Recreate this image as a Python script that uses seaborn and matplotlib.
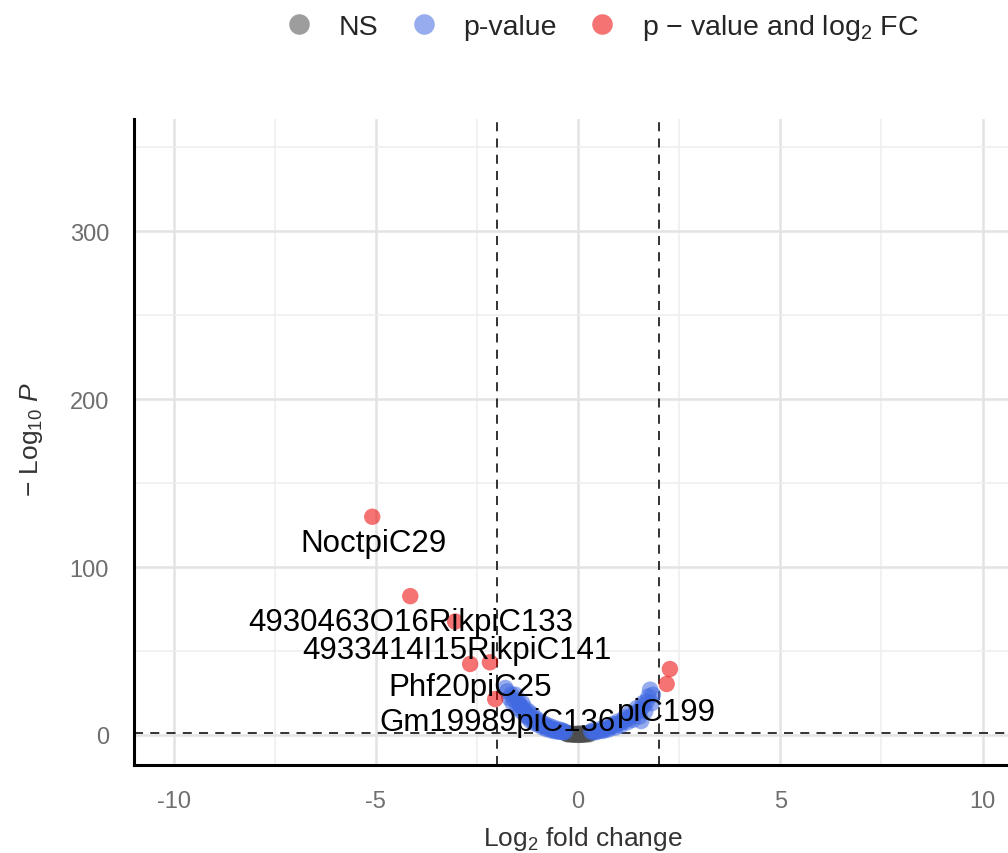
import matplotlib
matplotlib.use("Agg")
import matplotlib.pyplot as plt
import pandas as pd
import seaborn as sns
from matplotlib.ticker import MultipleLocator

# points (log2 fold change, -log10 p)
red_x = [-5.09, -4.15, -3.04, -2.67, -2.18, -2.05, 2.27, 2.19]
red_y = [130.0, 82.7, 67.6, 42.3, 43.3, 21.4, 39.3, 30.4]

blue_x = [-1.80, -1.75, -1.70, -1.65, -1.62, -1.58, -1.55, -1.50, -1.48, -1.45,
          -1.42, -1.40, -1.38, -1.35, -1.32, -1.30, -1.28, -1.25, -1.22, -1.20,
          -1.18, -1.15, -1.12, -1.10, -1.08, -1.05, -1.02, -1.00, -0.98, -0.95,
          -0.92, -0.90, -0.88, -0.85, -0.82, -0.80, -0.78, -0.75, -0.72, -0.70,
          -0.68, -0.65, -0.62, -0.60, -0.58, -0.55, -0.52, -0.50, -0.48, -0.45,
          -0.42, -0.40, -0.38, -0.35, -0.32,
          0.32, 0.35, 0.38, 0.42, 0.45, 0.50, 0.55, 0.58, 0.62, 0.65,
          0.68, 0.72, 0.75, 0.80, 0.85, 0.88, 0.92, 0.95, 0.98, 1.02,
          1.05, 1.10, 1.15, 1.18, 1.22, 1.25, 1.28, 1.32, 1.35, 1.40,
          1.45, 1.48, 1.52, 1.55, 1.56, 1.60, 1.62, 1.66, 1.70, 1.74,
          1.78, 1.82, 1.85]
blue_y = [28.0, 26.0, 22.0, 24.0, 19.0, 21.0, 24.0, 16.0, 20.0, 18.0,
          17.0, 14.0, 19.0, 15.0, 16.0, 12.0, 11.0, 13.0, 14.0, 10.0,
          8.5, 11.0, 12.0, 9.0, 7.0, 8.5, 9.5, 7.5, 6.0, 7.0,
          8.0, 6.0, 4.5, 5.5, 6.5, 5.0, 3.5, 4.5, 5.5, 4.0,
          2.8, 3.5, 4.5, 3.0, 2.2, 2.8, 3.6, 2.4, 1.9, 2.1,
          3.0, 1.8, 2.4, 1.6, 2.0,
          2.2, 1.6, 2.8, 1.9, 1.7, 2.3, 3.6, 2.8, 2.4, 3.3,
          4.6, 4.0, 3.2, 4.6, 6.5, 5.4, 4.4, 6.2, 8.0, 7.0,
          5.6, 8.0, 10.5, 9.2, 7.6, 10.0, 13.0, 11.5, 9.0, 12.5,
          16.0, 14.0, 11.0, 15.5, 8.3, 19.0, 17.5, 14.0, 20.0, 23.0,
          27.0, 19.0, 24.0]

grey_x = [-0.30, -0.28, -0.25, -0.22, -0.20, -0.18, -0.15, -0.12, -0.10, -0.08,
          -0.05, -0.02, 0.00, 0.02, 0.04, 0.05, 0.08, 0.10, 0.12, 0.15,
          0.18, 0.20, 0.22, 0.25, 0.28, 0.30]
grey_y = [1.1, 0.5, 0.8, 0.3, 0.6, 0.9, 0.4, 0.2, 0.3, 0.6,
          0.1, 0.7, 0.05, 0.4, 0.9, 0.15, 0.1, 0.3, 0.7, 0.45,
          0.2, 0.6, 1.0, 0.85, 0.4, 1.1]

labels = ["NoctpiC29", "4930463O16RikpiC133", "4933414I15RikpiC141",
          "Phf20piC25", "Gm19989piC136", "piC199"]
label_x = [-5.07, -4.15, -2.99, -2.67, -2.00, 2.18]
label_y = [114.3, 67.3, 50.6, 28.6, 7.7, 13.7]

cat_ns = "NS"
cat_p = "p-value"
cat_fc = r"p $-$ value and log$_2$ FC"

df = pd.concat([
    pd.DataFrame({"lfc": grey_x, "logp": grey_y, "group": cat_ns}),
    pd.DataFrame({"lfc": blue_x, "logp": blue_y, "group": cat_p}),
    pd.DataFrame({"lfc": red_x, "logp": red_y, "group": cat_fc}),
], ignore_index=True)

sns.set_style("white")
plt.rcParams["font.family"] = ["Liberation Sans", "DejaVu Sans"]
plt.rcParams["mathtext.fontset"] = "custom"
plt.rcParams["mathtext.rm"] = "Liberation Sans"
plt.rcParams["mathtext.it"] = "Liberation Sans:italic"

fig = plt.figure(figsize=(10.08, 8.54), dpi=100)
ax = fig.add_axes([0.133, 0.103, 0.867, 0.756])

palette = {cat_ns: "#4d4d4d", cat_p: "royalblue", cat_fc: "#ee0000"}
sns.scatterplot(data=df, x="lfc", y="logp", hue="group", palette=palette,
                hue_order=[cat_ns, cat_p, cat_fc], s=140, alpha=0.55,
                linewidth=0, ax=ax, zorder=3)

for t, tx, ty in zip(labels, label_x, label_y):
    ax.text(tx, ty, t, ha="center", va="center", fontsize=22.5, color="black", zorder=4)

ax.axvline(-2, color="#222222", linestyle=(0, (5, 4)), linewidth=1.3, zorder=2)
ax.axvline(2, color="#222222", linestyle=(0, (5, 4)), linewidth=1.3, zorder=2)
ax.axhline(1.3, color="#222222", linestyle=(0, (5, 4)), linewidth=1.3, zorder=2)

ax.set_xlim(-10.98, 10.63)
ax.set_ylim(-17.9, 366.7)
ax.xaxis.set_major_locator(MultipleLocator(5))
ax.xaxis.set_minor_locator(MultipleLocator(2.5))
ax.yaxis.set_major_locator(MultipleLocator(100))
ax.yaxis.set_minor_locator(MultipleLocator(50))
ax.grid(True, which="major", color="#e3e3e3", linewidth=1.8)
ax.grid(True, which="minor", color="#eeeeee", linewidth=1.1)
ax.set_axisbelow(True)

for side in ["top", "right"]:
    ax.spines[side].set_visible(False)
for side in ["left", "bottom"]:
    ax.spines[side].set_color("black")
    ax.spines[side].set_linewidth(2.2)

ax.tick_params(axis="both", which="major", length=10, width=2.2, color="black",
               labelsize=17, labelcolor="#6e6e6e", pad=8)
ax.tick_params(axis="both", which="minor", length=0)
ax.set_xticks([-10, -5, 0, 5, 10])
ax.set_xticklabels(["-10", "-5", "0", "5", "10"])

ax.set_xlabel(r"Log$_2$ fold change", fontsize=19, color="#333333")
ax.xaxis.set_label_coords(0.513, -0.092)
ax.set_ylabel(r"$-$ Log$_{10}$ $\mathit{P}$", fontsize=19, color="#333333")
ax.yaxis.set_label_coords(-0.102, 0.505)

handles, lbls = ax.get_legend_handles_labels()
ax.legend_.remove()
fig.legend(handles, lbls, loc="upper center", bbox_to_anchor=(0.59, 1.015), ncol=3,
           frameon=False, fontsize=20.5, markerscale=1.25, handlelength=2.0,
           handletextpad=0.4, columnspacing=0.58)

fig.savefig("out.png", dpi=100)
